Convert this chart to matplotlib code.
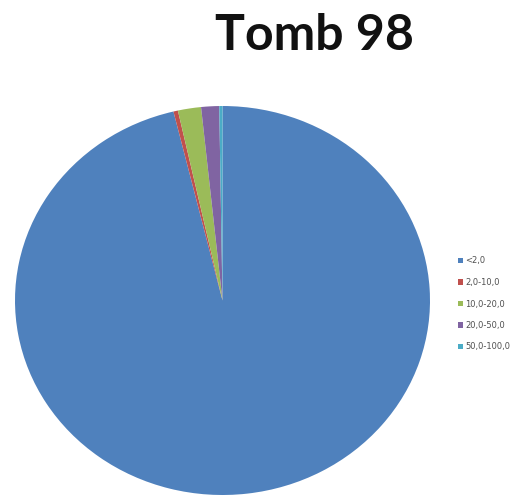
import matplotlib
matplotlib.use("Agg")
import matplotlib.pyplot as plt
from matplotlib.patches import Patch

title = "Tomb 98"
categories = ["<2,0", "2,0-10,0", "10,0-20,0", "20,0-50,0", "50,0-100,0"]
shares = [96.2, 0.35, 1.8, 1.4, 0.25]
colors = ["#4F81BD", "#C0504D", "#9BBB59", "#8064A2", "#4BACC6"]

W, H = 517, 497
fig = plt.figure(figsize=(W / 100, H / 100), dpi=100)
fig.patch.set_facecolor("white")

ax = fig.add_axes([15 / W, 2 / H, 415 / W, 389 / H])
ax.pie(shares, colors=colors, startangle=90, counterclock=False,
       wedgeprops=dict(linewidth=0))
ax.set_aspect("auto")
ax.set_xlim(-1, 1)
ax.set_ylim(-1, 1)
ax.axis("off")

fig.text(314 / W, 1 - 35 / H, title, ha="center", va="center",
         fontsize=36, fontweight="bold", family="Lato", color="#111111")

handles = [Patch(facecolor=c, edgecolor="none") for c in colors]
fig.legend(handles, categories, loc="center left",
           bbox_to_anchor=(450 / W, 1 - 304 / H), frameon=False,
           fontsize=6, handlelength=0.6, handleheight=0.6,
           handletextpad=0.3, labelspacing=1.5, labelcolor="#505050")

fig.savefig("out.png", dpi=100)
